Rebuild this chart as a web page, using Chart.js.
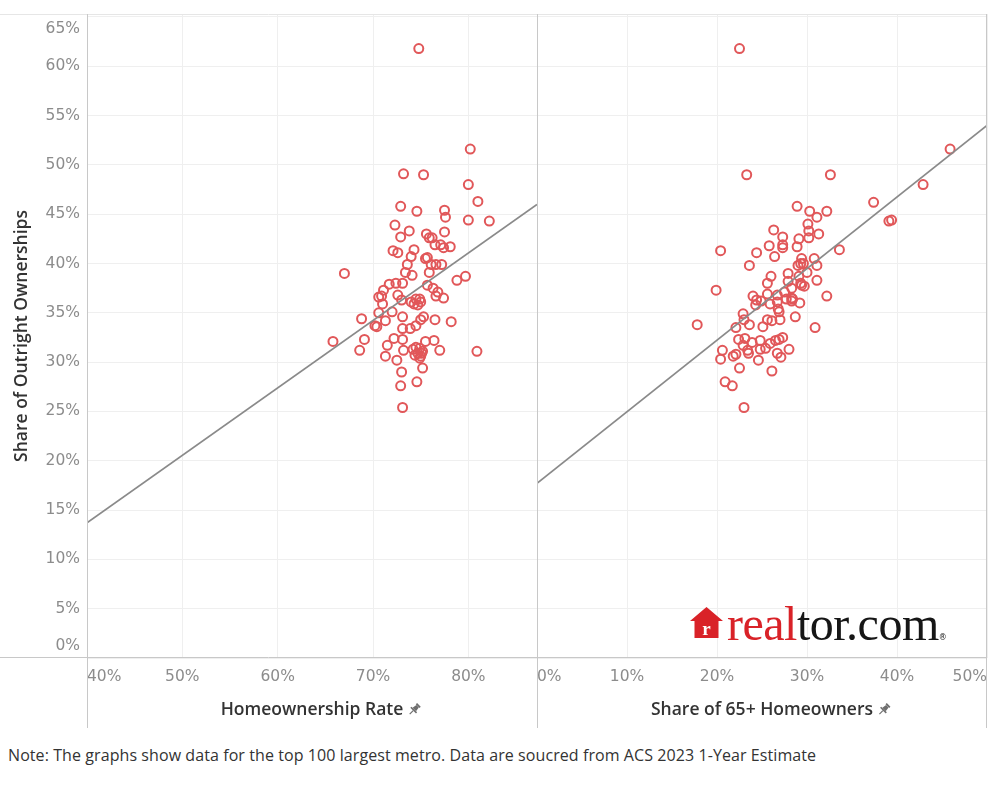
<!DOCTYPE html>
<html>
<head>
<meta charset="utf-8">
<script src="https://cdn.jsdelivr.net/npm/chart.js@4.4.1/dist/chart.umd.min.js"></script>
<style>
html,body{margin:0;padding:0;background:#fff;}
#wrap{position:relative;width:1000px;height:800px;overflow:hidden;background:#fff;}
.pane{position:absolute;top:0;height:730px;}
#p1{left:0;width:537px;}
#p2{left:537px;width:463px;}
#house{position:absolute;left:690px;top:607px;}
#brand{position:absolute;left:727px;top:600px;font-family:'Liberation Serif',serif;font-size:48px;line-height:48px;white-space:nowrap;letter-spacing:-0.5px;}
#brand .r{color:#d92228;}
#brand .k{color:#161616;}
#brand sup{font-size:8px;vertical-align:top;position:relative;top:14px;font-family:'DejaVu Sans',sans-serif;}
#note{position:absolute;left:8px;top:744px;font-family:'Open Sans',sans-serif;font-size:16px;letter-spacing:0.08px;color:#333;white-space:nowrap;}
</style>
</head>
<body>
<div id="wrap">
  <div class="pane" id="p1"><canvas id="c1"></canvas></div>
  <div class="pane" id="p2"><canvas id="c2"></canvas></div>
  <svg id="house" width="33" height="31" viewBox="0 0 33 31">
    <polygon points="16.5,0 33,14 28.5,14 28.5,31 4.5,31 4.5,14 0,14" fill="#d92228"/>
    <text x="16.5" y="28" text-anchor="middle" font-family="Liberation Serif" font-weight="bold" font-size="19" fill="#fff">r</text>
  </svg>
  <div id="brand"><span class="r">real</span><span class="k">tor.com</span><sup class="k">®</sup></div>
  <div id="note">Note: The graphs show data for the top 100 largest metro. Data are soucred from ACS 2023 1-Year Estimate</div>
</div>
<script>
// ---------- axis ticks ----------
const yTickValues = [0,5,10,15,20,25,30,35,40,45,50,55,60,65];
const yTickLabels = ['0%','5%','10%','15%','20%','25%','30%','35%','40%','45%','50%','55%','60%','65%'];
const yRange = [0, 65.3];
const leftXTicks = [40,50,60,70,80];
const leftXLabels = ['40%','50%','60%','70%','80%'];
const leftXRange = [40, 87.2];
const rightXTicks = [0,10,20,30,40,50];
const rightXLabels = ['0%','10%','20%','30%','40%','50%'];
const rightXRange = [0, 50];
const yTitle = 'Share of Outright Ownerships';
const leftXTitle = 'Homeownership Rate';
const rightXTitle = 'Share of 65+ Homeowners';

// ---------- left panel: homeownership rate vs outright share ----------
const homeownershipRate = [74.8,80.2,73.2,75.3,80.0,81.0,72.9,74.6,77.5,77.6,80.0,82.2,72.3,73.8,72.9,77.5,75.6,75.9,76.2,77.1,
  77.4,78.1,76.5,74.3,74.0,72.1,72.6,75.5,75.7,73.6,76.1,76.6,77.2,75.9,67.0,73.4,74.1,73.1,78.8,79.7,
  75.7,76.3,76.8,76.6,77.4,71.7,72.4,71.1,70.6,70.9,72.6,71.0,73.0,74.0,74.5,74.9,74.3,74.7,75.0,68.8,
  70.6,72.0,73.1,70.2,70.4,71.3,73.1,73.9,74.5,75.0,75.3,76.5,78.2,65.8,69.1,68.6,71.3,71.5,72.2,73.1,
  72.5,73.2,74.2,74.5,74.9,75.2,74.7,75.0,74.9,75.5,76.4,77.0,80.9,75.2,73.0,72.9,74.6,73.1,74.4,75.1];
const outrightShareA = [61.8,51.6,49.1,49.0,48.0,46.3,45.8,45.3,45.4,44.7,44.4,44.3,43.9,43.3,42.7,43.2,43.0,42.6,42.6,41.9,
  41.6,41.7,41.9,41.4,40.7,41.3,41.1,40.5,40.6,39.9,39.9,39.9,39.9,39.1,39.0,39.1,38.8,38.0,38.3,38.7,
  37.8,37.5,37.1,36.7,36.5,37.9,38.0,37.3,36.6,36.7,36.8,35.9,36.3,36.1,36.4,36.4,35.9,35.8,36.1,34.4,
  35.0,35.1,34.6,33.7,33.6,34.2,33.4,33.4,33.7,34.3,34.6,34.3,34.1,32.1,32.3,31.2,30.6,31.7,32.4,32.3,
  30.2,31.2,31.3,31.5,31.4,31.1,30.9,30.6,30.4,32.1,32.2,31.2,31.1,29.4,29.0,27.6,28.0,25.4,30.7,30.9];
const trendAx = [40, 87.2];
const trendAy = [13.7, 46.0];

// ---------- right panel: share of 65+ homeowners vs outright share ----------
const senior65Share = [22.5,23.3,32.6,28.9,30.3,32.2,31.1,30.1,26.3,45.9,42.9,37.4,39.1,39.4,33.6,30.2,31.3,30.2,27.3,29.1,
  25.8,27.3,27.3,28.9,24.4,20.4,26.4,23.6,29.4,30.8,29.0,29.3,29.6,31.1,27.9,26.0,30.0,29.1,19.9,25.6,
  27.9,29.3,31.1,29.4,29.7,28.3,25.6,24.0,32.2,26.7,24.4,24.3,25.9,26.7,27.7,28.3,28.3,28.4,29.2,22.9,
  23.0,23.6,22.1,26.9,25.6,26.1,27.0,25.1,28.7,30.9,17.8,22.4,23.1,22.9,23.4,23.5,24.8,24.8,25.4,25.9,
  26.5,26.9,27.3,26.7,27.1,28.0,24.6,20.6,20.4,21.8,22.1,22.5,26.1,20.9,21.7,23.0,26.8,27.5,24.9,23.9];
const outrightShareB = [61.8,49.0,49.0,45.8,45.3,45.3,44.7,44.0,43.4,51.6,48.0,46.2,44.3,44.4,41.4,43.3,43.0,42.6,42.7,42.5,
  41.8,41.9,41.6,41.7,41.1,41.3,40.7,39.8,40.5,40.5,39.8,40.0,40.0,39.8,39.0,38.7,39.1,38.7,37.3,38.0,
  38.2,38.0,38.3,37.8,37.7,37.5,36.9,36.7,36.7,36.8,36.3,35.8,35.9,36.1,36.4,36.5,36.2,36.4,36.0,34.9,
  34.3,33.8,33.5,35.1,34.3,34.2,34.3,33.6,34.6,33.5,33.8,32.3,32.4,31.7,31.2,30.9,32.2,31.3,31.4,31.9,
  32.2,32.3,32.5,30.9,30.5,31.3,30.2,31.2,30.3,30.6,30.8,29.4,29.1,28.0,27.6,25.4,35.4,37.1,36.2,32.0];
const trendBx = [0, 50];
const trendBy = [17.7, 54.0];

// ---------- styles ----------
const MARK = '#e15759';
const TREND = '#8a8a8a';
const TICK_COLOR = '#8c8c8c';
const TITLE_COLOR = '#333333';
const tickFont = {family: "'DejaVu Sans'", size: 15.5};
const titleFont = {family: "'Open Sans'", size: 17.5, weight: '600'};

function pts(xs, ys){ return xs.map((x,i)=>({x:x, y:ys[i]})); }

function yAxis(show){
  return {
    type:'linear', position:'left', min:yRange[0], max:yRange[1],
    afterBuildTicks: s => { s.ticks = yTickValues.map(v=>({value:v})); },
    afterFit: s => { s.width = show ? 87 : 0; s.paddingTop = 0; s.paddingBottom = 0; },
    grid:{color:'#efefef', lineWidth:1, drawTicks:false},
    border:{display:false},
    ticks:{display:show, autoSkip:false, padding:7, color:TICK_COLOR, font:{family:"'DejaVu Sans'", size:15.5, lineHeight:1.55},
      callback:(v,i,t)=>{ const l = yTickLabels[i]; if(i===0) return [l,'']; if(i===t.length-1) return ['',l]; return l; }},
    title:{display:show, text:yTitle, color:TITLE_COLOR, font:titleFont, padding:{top:12,bottom:0}}
  };
}
function xAxis(range, tickVals, labels, title){
  return {
    type:'linear', position:'bottom', min:range[0], max:range[1],
    afterBuildTicks: s => { const v = tickVals.slice(); if (v[v.length-1] < range[1]) v.push(range[1]); s.ticks = v.map(x=>({value:x})); },
    afterFit: s => { s.height = 72; s.paddingLeft = 0; s.paddingRight = 0; },
    grid:{color:'#efefef', lineWidth:1, drawTicks:false},
    border:{display:false},
    ticks:{align:'inner', padding:10, color:TICK_COLOR, font:tickFont, maxRotation:0, autoSkip:false,
      callback:(v,i)=> (labels[i] !== undefined ? labels[i] : '')},
    title:{display:true, text:title, color:TITLE_COLOR, font:titleFont, padding:{top:0,bottom:9}}
  };
}

const framePlugin = {
  id:'frame',
  afterDraw(chart, args, opts){
    const ctx = chart.ctx, a = chart.chartArea;
    ctx.save();
    ctx.lineWidth = 1;
    ctx.strokeStyle = '#e6e6e6';
    ctx.beginPath();
    ctx.moveTo(0, a.top + 0.5); ctx.lineTo(a.right, a.top + 0.5);
    ctx.stroke();
    ctx.strokeStyle = '#c8c8c8';
    ctx.beginPath();
    const by = Math.round(a.bottom) - 0.5;
    ctx.moveTo(0, by); ctx.lineTo(a.right, by);
    const xs = opts.side === 'left' ? [Math.round(a.left) + 0.5] : [0.5, Math.round(a.right) - 0.5];
    xs.forEach(x => { ctx.moveTo(x, a.top); ctx.lineTo(x, 728); });
    ctx.stroke();
    // pin icon after x-axis title
    const s = chart.scales.x;
    const t = s.options.title;
    ctx.font = `${t.font.weight} ${t.font.size}px ${t.font.family}`;
    const w = ctx.measureText(t.text).width;
    const lh = t.font.size * 1.2;
    const px = (a.left + a.right)/2 + w/2 + 11;
    const py = s.bottom - (lh/2 + 9) - 1;
    ctx.translate(px, py);
    ctx.rotate(Math.PI/4);
    ctx.fillStyle = '#6e6e6e';
    ctx.strokeStyle = '#6e6e6e';
    ctx.fillRect(-2.6, -6.5, 5.2, 1.8);
    ctx.beginPath();
    ctx.moveTo(-1.7, -4.7); ctx.lineTo(1.7, -4.7); ctx.lineTo(2.4, 0); ctx.lineTo(-2.4, 0); ctx.closePath();
    ctx.fill();
    ctx.fillRect(-4, 0, 8, 1.6);
    ctx.lineWidth = 1.2;
    ctx.beginPath(); ctx.moveTo(0, 1.6); ctx.lineTo(0, 6.5); ctx.stroke();
    ctx.restore();
  }
};

function makeChart(id, side, xs, ys, tx, ty, xr, xt, xl, xtitle){
  return new Chart(document.getElementById(id), {
    type:'scatter',
    data:{datasets:[
      {type:'line', data:pts(tx, ty), borderColor:TREND, borderWidth:1.7, pointRadius:0, fill:false, order:0},
      {type:'scatter', data:pts(xs, ys), borderColor:MARK, backgroundColor:'rgba(0,0,0,0)', borderWidth:2, pointRadius:4.5, pointHoverRadius:4.5, order:1}
    ]},
    options:{
      responsive:true, maintainAspectRatio:false, animation:false, devicePixelRatio:1,
      layout:{autoPadding:false, padding:{top:14, left:0, bottom:0, right: side==='left' ? 0 : 13}},
      plugins:{legend:{display:false}, tooltip:{enabled:false}, frame:{side:side}},
      events:[],
      scales:{ x:xAxis(xr, xt, xl, xtitle), y:yAxis(side==='left') }
    },
    plugins:[framePlugin]
  });
}

makeChart('c1','left', homeownershipRate, outrightShareA, trendAx, trendAy, leftXRange, leftXTicks, leftXLabels, leftXTitle);
makeChart('c2','right', senior65Share, outrightShareB, trendBx, trendBy, rightXRange, rightXTicks, rightXLabels, rightXTitle);
</script>
</body>
</html>
